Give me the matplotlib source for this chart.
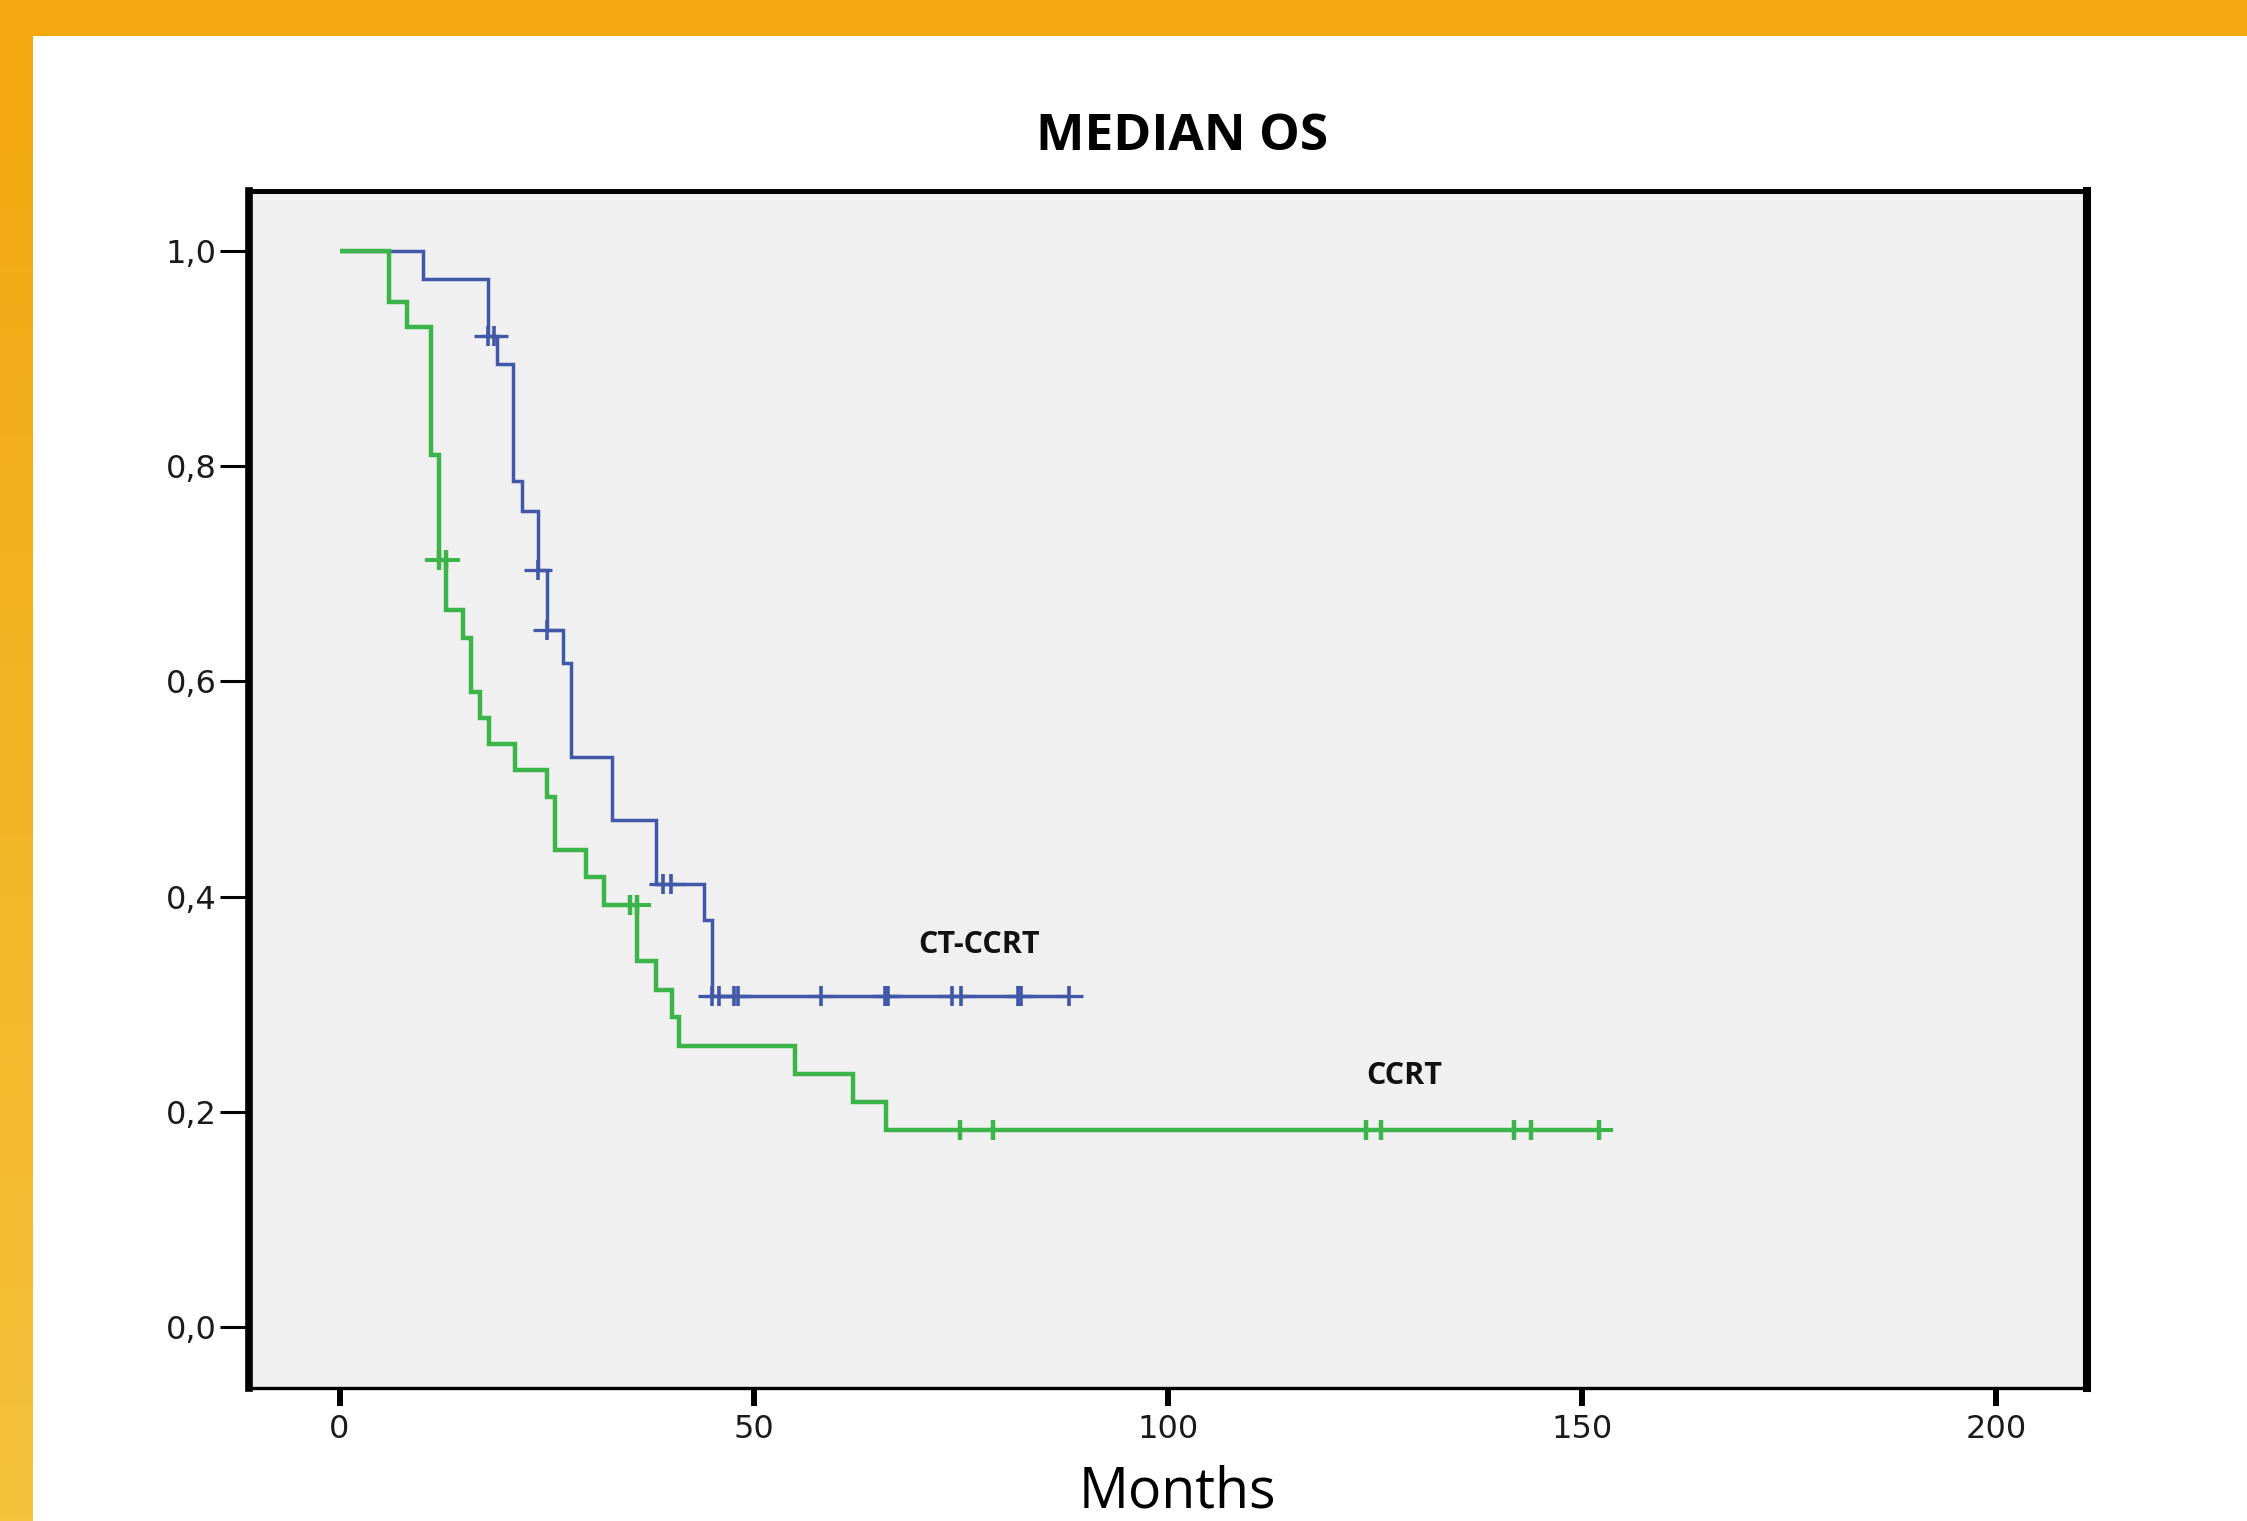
import numpy as np
import matplotlib.pyplot as plt
from matplotlib.patches import Rectangle
from matplotlib.colors import LinearSegmentedColormap

# Kaplan-Meier steps: event time (months) and survival after the drop
ccrt_times = [0, 6.0, 8.2, 11.1, 12.0, 12.9, 14.9, 15.9, 17.0, 18.0, 21.2, 25.0, 26.0,
              29.8, 31.9, 35.9, 38.2, 40.1, 41.0, 55.0, 62.0, 66.0]
ccrt_surv = [1.0, 0.953, 0.929, 0.810, 0.713, 0.666, 0.640, 0.590, 0.566, 0.542, 0.518,
             0.493, 0.443, 0.418, 0.392, 0.340, 0.313, 0.288, 0.261, 0.235, 0.209, 0.183]
ccrt_cens_t = [12.0, 12.9, 35.1, 35.9, 74.9, 78.85, 123.9, 125.8, 141.8, 143.9, 152.1]
ccrt_cens_s = [0.713, 0.713, 0.392, 0.392, 0.183, 0.183, 0.183, 0.183, 0.183, 0.183, 0.183]

ctccrt_times = [0, 10.1, 17.95, 19.0, 21.0, 22.0, 24.0, 25.0, 27.0, 28.0, 32.9, 38.2, 44.0, 45.0]
ctccrt_surv = [1.0, 0.974, 0.921, 0.895, 0.786, 0.758, 0.7035, 0.648, 0.617, 0.530, 0.471,
               0.412, 0.378, 0.308]
ctccrt_cens_t = [17.9, 18.7, 24.0, 25.0, 39.1, 40.0, 45.0, 45.8, 47.6, 48.1, 58.1, 65.8,
                 66.2, 73.9, 75.0, 81.9, 82.3, 88.1]
ctccrt_cens_s = [0.921, 0.921, 0.7035, 0.648, 0.412, 0.412] + [0.308] * 12

x_ticks = [0, 50, 100, 150, 200]
y_ticks = [0.0, 0.2, 0.4, 0.6, 0.8, 1.0]
y_labels = ['0,0', '0,2', '0,4', '0,6', '0,8', '1,0']

GREEN = '#3BB44A'
BLUE = '#4157A8'
narrow = ['Liberation Sans Narrow', 'Open Sans', 'DejaVu Sans']

fig = plt.figure(figsize=(22.47, 15.21), dpi=100)
fig.patch.set_facecolor('white')

# orange slide frame
fig.patches.append(Rectangle((0, 1 - 36 / 1521), 1, 36 / 1521, transform=fig.transFigure,
                             facecolor='#F2A80F', edgecolor='none', zorder=0))
bar = fig.add_axes([0, 0, 33 / 2247, 1 - 36 / 1521])
grad = np.linspace(0, 1, 256).reshape(-1, 1)
cmap = LinearSegmentedColormap.from_list('frame', ['#F2A80F', '#F5C23C'])
bar.imshow(grad, aspect='auto', cmap=cmap, extent=[0, 1, 0, 1])
bar.set_axis_off()

ax = fig.add_axes([0.1107, 0.0876, 0.8179, 0.7865])
ax.set_facecolor('#F0F0F0')


def km(ax, times, surv, end, cens_t, cens_s, color, lw, mew, z):
    ax.step(list(times) + [end], list(surv) + [surv[-1]], where='post', color=color,
            lw=lw, solid_joinstyle='miter', solid_capstyle='butt', zorder=z)
    ax.plot(cens_t, cens_s, ls='none', marker='|', ms=14, mew=mew, color=color, zorder=z)
    ax.plot(cens_t, cens_s, ls='none', marker='_', ms=20, mew=mew * 0.9, color=color, zorder=z)


km(ax, ctccrt_times, ctccrt_surv, ctccrt_cens_t[-1], ctccrt_cens_t, ctccrt_cens_s, BLUE, 2.5, 2.6, 3)
km(ax, ccrt_times, ccrt_surv, ccrt_cens_t[-1], ccrt_cens_t, ccrt_cens_s, GREEN, 3.2, 3.2, 4)

ax.text(77.25, 0.355, 'CT-CCRT', ha='center', va='center', fontsize=22,
        fontweight='bold', family=narrow, color='#111111')
ax.text(128.5, 0.2335, 'CCRT', ha='center', va='center', fontsize=22,
        fontweight='bold', family=narrow, color='#111111')

ax.set_xlim(-10.96, 210.93)
ax.set_ylim(-0.0564, 1.0553)
ax.set_xticks(x_ticks)
ax.set_xticklabels([str(v) for v in x_ticks], fontsize=23, family='DejaVu Sans', color='#1a1a1a')
ax.set_yticks(y_ticks)
ax.set_yticklabels(y_labels, fontsize=23, family='DejaVu Sans', color='#1a1a1a')
ax.tick_params(axis='y', length=21, width=2.2, pad=2, color='black')
ax.tick_params(axis='x', length=13, width=4.3, pad=6, color='black')

for side, w in [('left', 5.5), ('top', 3.6), ('right', 5.8), ('bottom', 2.4)]:
    ax.spines[side].set_linewidth(w)
    ax.spines[side].set_color('black')

fig.text(0.526, 0.9014, 'MEDIAN OS', ha='center', va='baseline', fontsize=37,
         fontweight='bold', family=narrow, color='black')
fig.text(0.524, 0.009, 'Months', ha='center', va='baseline', fontsize=40,
         family=narrow, color='black')

fig.savefig('out.png', dpi=100, facecolor='white')
